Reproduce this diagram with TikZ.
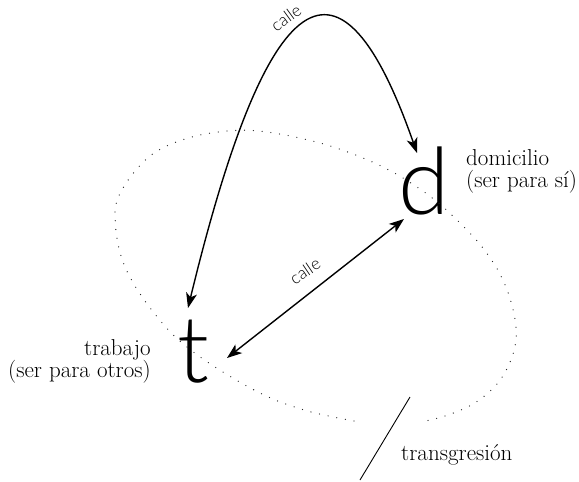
\documentclass[tikz,border=0pt]{standalone}
\usepackage{fontspec}
\IfFontExistsTF{Lato Light}{\newfontfamily\glyphfont{Lato Light}}{\newfontfamily\glyphfont{Lato}}
\usetikzlibrary{arrows.meta}
\begin{document}
\begin{tikzpicture}[x=1pt,y=-1pt,
  big/.style={font=\glyphfont\fontsize{93}{93}\selectfont, inner sep=0pt},
  lbl/.style={font=\fontsize{23}{22}\selectfont, inner sep=0pt},
  road/.style={font=\glyphfont\fontsize{17}{17}\selectfont, inner sep=0pt},
  conn/.style={line width=1.4pt, {Stealth[length=15pt,width=11pt,inset=4pt]}-{Stealth[length=15pt,width=11pt,inset=4pt]}},
  loopline/.style={line width=1.3pt, line cap=round, dash pattern=on 0pt off 8.8pt, black!85},
]
\useasboundingbox (0,0) rectangle (579,482);
% big letters
\node[big, anchor=base] (d) at (424,214) {d};
\node[big, anchor=base] (t) at (193,382) {t};
% labels
\node[lbl, anchor=north west, align=left] (dl) at (466,149) {domicilio\\(ser para sí)};
\node[lbl, anchor=north east, align=right] (tl) at (151,339) {trabajo\\(ser para otros)};
\node[lbl, anchor=base west] (tr) at (401,460) {transgresión};
% arrow ends
\coordinate (tA) at (188,308);
\coordinate (dA) at (417,153);
\coordinate (tB) at (227,358);
\coordinate (dB) at (404,219);
\draw[conn] (tA) .. controls (268,-22) and (340,-67) .. (dA);
\node[road, rotate=36] (c1) at (286,18) {calle};
\draw[conn] (tB) -- (dB);
\node[road, rotate=34] (c2) at (305,271) {calle};
% transgression stroke
\coordinate (x1) at (410,397);
\coordinate (x2) at (360,480);
\draw[line width=0.9pt] (x1) -- (x2);
% dotted loop
\draw[loopline] plot[smooth, tension=0.6] coordinates {
 (354,421) (304,410) (256,391) (196,354) (158,318) (125,267) (115,217)
 (123,188) (150,156) (185,139) (227,131) (267,132) (327,145) (383,167)
 (427,194) (458,221) (486,252) (506,287) (516,327) (512,357) (497,384)
 (473,404) (445,416) (425,421)};
\end{tikzpicture}
\end{document}
